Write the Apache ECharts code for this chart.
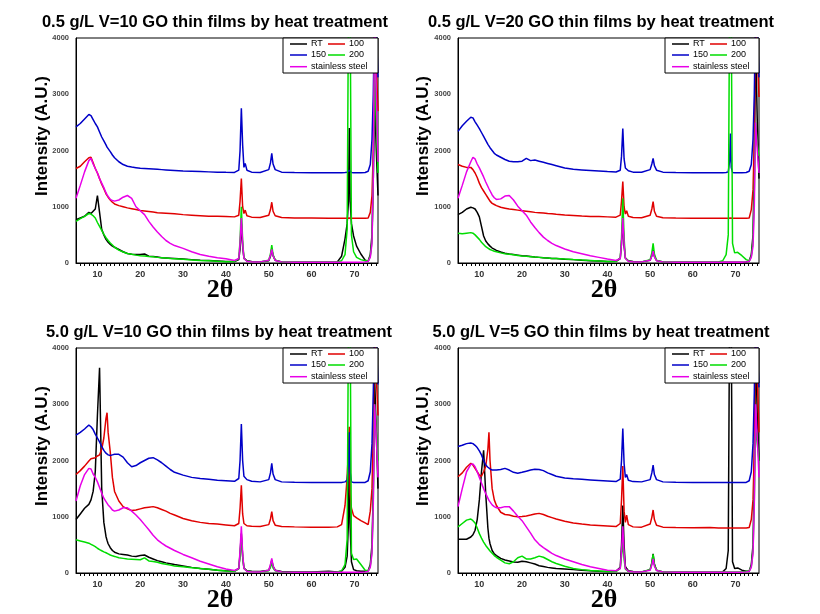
<!DOCTYPE html>
<html><head><meta charset="utf-8">
<script src="https://cdn.jsdelivr.net/npm/echarts@6/dist/echarts.min.js"></script>
<style>html,body{margin:0;padding:0;background:#fff}#c{width:820px;height:614px}</style>
</head><body><div id="c"></div>
<script>
// 2θ sample positions shared by all curves
const X = [5,6,7,8,8.5,9,9.5,10,10.5,11,
  11.5,12,12.25,12.5,13,13.5,14,15,16,17,
  18,19,20,21,22,23,24,25,26,27,
  28,30,32,34,36,38,40,42,43,43.3,
  43.6,43.9,44.2,44.5,44.9,46,48,50,50.4,50.7,
  51,51.5,53,56,60,64,66,67,67.8,68.3,
  68.6,68.8,69,69.3,69.8,70.5,71.5,72.5,73.2,73.7,
  74.1,74.4,74.7,75.1,75.5];

const seriesNames = ['RT','100','150','200','stainless steel'];
const titles = ['0.5 g/L V=10 GO thin films by heat treatment','0.5 g/L V=20 GO thin films by heat treatment',
  '5.0 g/L V=10 GO thin films by heat treatment','5.0 g/L V=5 GO thin films by heat treatment'];
const xTickLabels = [10,20,30,40,50,60,70];
const yTickLabels = [0,1000,2000,3000,4000];

// Panel 1: 0.5 g/L V=10
const p1_RT = [770,800,830,900,880,920,960,1200,900,600,
 500,420,395,370,330,300,280,240,200,170,
 155,150,150,160,120,115,105,95,90,85,
 80,70,60,50,45,35,25,25,60,250,
 700,300,90,80,40,25,20,40,120,250,
 130,50,20,15,15,15,20,120,430,700,
 1100,2400,1100,700,480,300,160,50,30,150,
 500,1500,3000,2000,1200];
const p1_100 = [1680,1720,1800,1870,1880,1780,1680,1600,1500,1400,
 1320,1230,1200,1170,1120,1080,1050,1020,1000,980,
 965,950,935,925,915,905,895,890,885,880,
 875,860,850,840,830,830,825,820,850,1100,
 1500,1000,880,940,840,815,810,850,950,1080,
 920,840,810,800,800,795,795,795,795,795,
 795,800,795,795,795,795,795,795,800,900,
 1200,2000,4500,3500,2700];
const p1_150 = [2420,2480,2560,2640,2620,2550,2480,2420,2330,2240,
 2170,2100,2060,2030,1980,1920,1870,1800,1750,1720,
 1705,1695,1685,1680,1675,1670,1665,1660,1655,1650,
 1645,1635,1630,1625,1620,1615,1612,1610,1650,2000,
 2750,2100,1700,1770,1650,1615,1610,1660,1780,1950,
 1760,1660,1615,1610,1605,1605,1605,1605,1610,1615,
 1620,1650,1620,1610,1605,1605,1605,1610,1630,1750,
 2200,3000,4500,4200,3300];
const p1_200 = [740,790,830,880,870,840,800,720,650,580,
 510,450,425,400,355,320,280,230,195,170,
 155,140,130,125,115,110,100,95,88,80,
 75,65,55,45,40,30,22,25,80,400,
 1000,400,80,60,35,20,18,50,160,320,
 150,50,20,15,15,15,20,40,150,600,
 4500,5000,4500,500,200,100,60,40,40,120,
 400,1500,3500,2500,1600];
const p1_SS = [1150,1380,1620,1820,1860,1760,1680,1600,1500,1420,
 1340,1250,1210,1180,1130,1110,1100,1120,1170,1200,
 1150,1000,930,860,740,640,550,470,400,350,
 310,260,200,150,120,95,75,45,80,350,
 800,350,80,50,30,20,20,50,140,240,
 130,45,20,15,15,15,15,15,15,15,
 15,15,15,15,15,15,15,20,30,100,
 350,1500,4500,3000,1800];

// Panel 2: 0.5 g/L V=20
const p2_RT = [860,900,960,990,980,960,900,820,650,480,
 390,340,320,300,266,245,225,195,175,160,
 150,140,130,125,115,105,100,92,88,82,
 78,68,60,50,42,35,28,30,80,350,
 750,300,90,70,40,25,20,50,130,230,
 120,45,20,15,15,15,15,15,15,15,
 15,15,15,15,15,15,15,20,30,150,
 500,1800,4000,2500,1500];
const p2_100 = [1750,1720,1700,1700,1660,1600,1520,1420,1340,1280,
 1220,1160,1130,1100,1060,1040,1020,990,975,960,
 950,940,930,920,910,900,895,890,880,875,
 868,855,845,835,828,825,820,815,850,1100,
 1450,1000,870,930,830,810,805,850,960,1090,
 920,830,805,800,795,795,795,795,795,795,
 795,800,795,795,795,795,795,795,800,950,
 1300,2200,4500,3700,2950];
const p2_150 = [2340,2440,2520,2590,2580,2510,2450,2390,2320,2250,
 2180,2110,2080,2050,2000,1950,1920,1880,1840,1810,
 1800,1800,1810,1860,1820,1830,1810,1790,1770,1750,
 1730,1690,1665,1655,1645,1635,1625,1618,1650,1900,
 2390,1850,1690,1720,1640,1615,1612,1660,1760,1860,
 1730,1650,1615,1610,1605,1605,1605,1605,1610,1620,
 1800,2300,1700,1610,1605,1605,1605,1610,1630,1750,
 2200,3000,4500,4200,3300];
const p2_200 = [530,520,530,540,530,500,460,420,370,330,
 290,265,252,240,225,210,200,180,165,155,
 145,135,125,118,112,105,100,92,88,82,
 78,70,62,55,45,35,25,25,90,450,
 1150,450,90,60,35,20,18,60,180,350,
 160,50,20,15,15,15,20,40,150,500,
 4500,5000,4500,350,180,190,130,60,40,120,
 400,1300,2500,2100,1900];
const p2_SS = [1150,1380,1620,1800,1880,1850,1760,1690,1610,1530,
 1440,1360,1320,1290,1210,1160,1130,1140,1190,1200,
 1120,1010,930,850,730,630,540,460,400,350,
 310,250,200,165,130,100,70,45,80,350,
 800,350,80,50,30,20,20,50,120,210,
 110,40,20,15,15,15,15,15,15,15,
 15,15,15,15,15,15,15,20,30,100,
 300,1000,2500,2000,1600];

// Panel 3: 5.0 g/L V=10
const p3_RT = [950,1050,1150,1220,1300,1450,1800,2800,3650,1500,
 900,650,580,520,450,400,370,340,330,320,
 300,295,310,320,280,250,220,200,180,165,
 150,125,100,80,65,50,40,35,80,350,
 700,300,90,70,40,30,25,50,130,230,
 120,50,25,20,20,30,20,30,100,300,
 900,2200,800,200,60,40,30,30,40,150,
 500,1500,3500,2500,1500];
const p3_100 = [1750,1820,1900,1990,2030,2040,2050,2080,2100,2200,
 2400,2750,2850,2500,2150,1700,1450,1280,1180,1140,
 1110,1120,1140,1160,1170,1180,1160,1130,1100,1060,
 1030,970,930,900,880,870,855,840,880,1150,
 1560,1050,880,900,840,830,825,860,960,1090,
 930,850,825,820,815,815,820,860,1200,1700,
 2200,2600,1400,1150,1020,980,930,890,860,1100,
 1500,2500,4500,3500,2800];
const p3_150 = [2450,2500,2560,2630,2600,2550,2470,2400,2330,2250,
 2180,2130,2110,2100,2090,2100,2110,2110,2060,1960,
 1890,1910,1960,2000,2040,2050,2010,1960,1900,1840,
 1790,1740,1700,1680,1665,1650,1640,1630,1680,2000,
 2650,2000,1720,1750,1660,1630,1620,1660,1780,1950,
 1760,1660,1620,1615,1610,1610,1610,1610,1620,1650,
 1900,2500,1800,1620,1610,1610,1610,1610,1640,1800,
 2300,3200,4500,4200,3350];
const p3_200 = [590,570,550,530,510,490,470,440,415,395,
 375,360,350,340,320,305,295,270,260,250,
 245,240,235,270,215,205,190,170,155,140,
 125,110,95,80,65,50,35,30,80,300,
 620,300,80,60,35,25,20,40,100,180,
 90,40,20,15,15,15,20,40,150,600,
 4500,5000,4500,350,240,250,150,50,40,120,
 400,1300,3000,2500,2000];
const p3_SS = [1280,1550,1750,1860,1850,1760,1700,1620,1520,1420,
 1330,1270,1240,1210,1170,1120,1100,1120,1160,1160,
 1100,1030,950,860,770,670,590,530,480,440,
 400,330,270,210,160,110,70,45,80,400,
 830,350,80,50,30,20,20,50,150,260,
 130,45,20,15,15,15,15,15,15,15,
 15,15,15,15,15,15,15,20,30,100,
 350,1200,3000,2400,1700];

// Panel 4: 5.0 g/L V=5
const p4_RT = [600,600,600,640,680,760,950,1300,1800,2180,
 1400,800,620,520,400,340,310,260,230,215,
 195,190,210,200,180,160,130,115,100,90,
 80,70,60,50,40,30,25,30,100,500,
 1200,500,120,80,40,25,20,60,180,340,
 160,50,20,15,15,15,15,20,80,400,
 4500,5000,4500,200,80,90,50,30,30,150,
 500,1800,4000,2800,2000];
const p4_100 = [1710,1780,1880,1950,1920,1860,1800,1740,1720,1800,
 1900,2200,2500,2000,1500,1300,1200,1080,1040,1030,
 1010,1000,1005,1015,1030,1050,1060,1040,1010,985,
 960,920,890,870,855,845,835,825,880,1300,
 1900,1100,900,1030,860,820,815,870,990,1120,
 950,850,815,810,805,810,800,800,800,800,
 800,800,800,800,800,800,800,800,810,950,
 1300,2200,4500,3500,2500];
const p4_150 = [2250,2270,2300,2310,2300,2270,2230,2170,2100,2000,
 1920,1880,1860,1850,1830,1830,1830,1840,1860,1830,
 1790,1775,1790,1810,1830,1845,1840,1820,1780,1750,
 1720,1690,1675,1665,1655,1645,1635,1625,1670,2000,
 2570,1950,1700,1750,1650,1625,1620,1660,1780,1920,
 1750,1660,1620,1615,1610,1610,1610,1610,1610,1610,
 1610,1610,1610,1610,1610,1610,1610,1610,1640,1800,
 2300,3200,4500,4000,3300];
const p4_200 = [820,880,940,960,930,890,800,700,620,550,
 490,440,420,390,350,310,280,230,180,165,
 200,270,300,250,250,270,300,280,240,200,
 170,120,80,60,45,35,25,25,80,300,
 550,250,70,50,30,20,18,60,180,330,
 150,50,20,15,15,15,15,20,20,20,
 20,20,20,20,20,20,20,30,40,120,
 400,1300,2600,2300,2000];
const p4_SS = [1180,1500,1800,1930,1940,1890,1800,1700,1600,1500,
 1410,1330,1290,1260,1210,1180,1160,1160,1180,1180,
 1100,1010,930,820,710,590,510,450,400,350,
 310,250,200,150,110,80,50,40,80,400,
 830,350,80,50,30,20,20,50,140,250,
 120,45,20,15,15,15,15,15,15,15,
 15,15,15,15,15,15,15,20,30,100,
 350,1200,3000,2400,1700];

const panelData = [
  [p1_RT,p1_100,p1_150,p1_200,p1_SS],
  [p2_RT,p2_100,p2_150,p2_200,p2_SS],
  [p3_RT,p3_100,p3_150,p3_200,p3_SS],
  [p4_RT,p4_100,p4_150,p4_200,p4_SS]
];

// ---------- layout & style ----------
const colors = ['#000000','#e00000','#0000c8','#00dd00','#e800e8'];
const layout = [
  {grid:{left:76,top:38,width:302,height:225}, title:[215,22], yname:[42,136], xname:[220,290], box:[283,38,95,35]},
  {grid:{left:458,top:38,width:301,height:225}, title:[601,22], yname:[423,136], xname:[604,290], box:[665,38,94,35]},
  {grid:{left:76,top:348,width:302,height:225}, title:[219,332], yname:[42,446], xname:[220,600], box:[283,348,95,35]},
  {grid:{left:458,top:348,width:301,height:225}, title:[601,332], yname:[423,446], xname:[604,600], box:[665,348,94,35]}
];
const legendSlots = [[7,7],[45,7],[7,18],[45,18],[7,29.7]];

const grids=[], xAxes=[], yAxes=[], series=[], legends=[], graphics=[];
layout.forEach((L,p)=>{
  grids.push(Object.assign({show:true,borderColor:'#000',borderWidth:1,backgroundColor:'#fff'},L.grid));
  xAxes.push({type:'value',gridIndex:p,min:5,max:75.5,interval:1,
    axisLine:{lineStyle:{color:'#000',width:1}},
    axisTick:{show:true,inside:false,length:3,lineStyle:{color:'#000'}},
    splitLine:{show:false},
    axisLabel:{margin:7,fontSize:9,fontWeight:'bold',color:'#333',fontFamily:'Liberation Sans, Arial',
      showMinLabel:false,showMaxLabel:false,
      formatter:v=>xTickLabels.indexOf(v)>=0?String(v):''}});
  yAxes.push({type:'value',gridIndex:p,min:0,max:4000,interval:1000,
    axisLine:{show:true,lineStyle:{color:'#000',width:1}},
    axisTick:{show:false},splitLine:{show:false},
    axisLabel:{margin:7,fontSize:7.5,fontWeight:'bold',color:'#444',fontFamily:'Liberation Sans, Arial',
      formatter:v=>yTickLabels.indexOf(v)>=0?String(v):''}});
  seriesNames.forEach((nm,k)=>{
    const ys = panelData[p][k];
    series.push({type:'line',name:nm,xAxisIndex:p,yAxisIndex:p,showSymbol:false,symbol:'none',
      clip:true,animation:false,color:colors[k],
      lineStyle:{color:colors[k],width:1.5},
      data:X.map((x,i)=>[x,ys[i]])});
  });
  const [bx,by,bw,bh]=L.box;
  graphics.push({type:'rect',z:50,shape:{x:bx,y:by,width:bw,height:bh},style:{fill:'#fff',stroke:'#000',lineWidth:1}});
  seriesNames.forEach((nm,k)=>{
    legends.push({data:[nm],left:bx+legendSlots[k][0],top:by+legendSlots[k][1]-5.5,
      padding:0,itemGap:0,itemWidth:17,itemHeight:1.5,icon:'rect',z:60,selectedMode:false,
      textStyle:{fontSize:9,color:'#000',fontFamily:'Liberation Sans, Arial',padding:[0,0,0,-1]}});
  });
  graphics.push({type:'text',z:60,x:L.title[0],y:L.title[1],
    style:{text:titles[p],font:'bold 16.5px "Liberation Sans", Arial',fill:'#000',
      textAlign:'center',textVerticalAlign:'middle',align:'center',verticalAlign:'middle'}});
  graphics.push({type:'text',z:60,x:L.yname[0],y:L.yname[1],rotation:Math.PI/2,
    style:{text:'Intensity (A.U.)',font:'bold 17px "Liberation Sans", Arial',fill:'#000',
      textAlign:'center',textVerticalAlign:'middle',align:'center',verticalAlign:'middle'}});
  graphics.push({type:'text',z:60,x:L.xname[0],y:L.xname[1],
    style:{text:'2\u03B8',font:'bold 26px "Liberation Serif", "Times New Roman", serif',fill:'#000',
      textAlign:'center',textVerticalAlign:'middle',align:'center',verticalAlign:'middle'}});
});

const chart = echarts.init(document.getElementById('c'),null,{renderer:'canvas'});
chart.setOption({
  backgroundColor:'#fff',animation:false,
  grid:grids,xAxis:xAxes,yAxis:yAxes,series:series,legend:legends,graphic:{elements:graphics}
});
</script></body></html>
